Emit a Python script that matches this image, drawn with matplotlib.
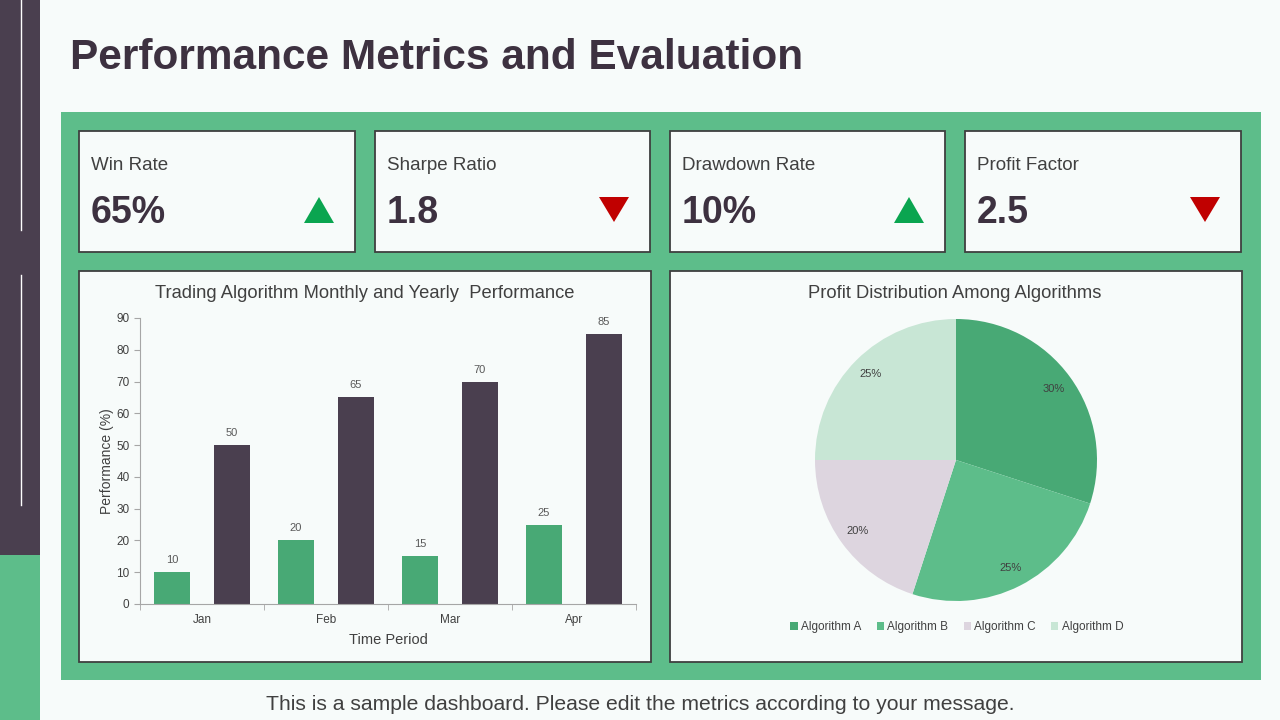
#!/usr/bin/env python3

import matplotlib
matplotlib.use("Agg")
import matplotlib.pyplot as plt
from matplotlib.patches import Rectangle, Polygon
import numpy as np

plt.rcParams["font.family"] = ["Liberation Sans", "DejaVu Sans"]

W, H = 1280, 720

# data
kpi_names = ["Win Rate", "Sharpe Ratio", "Drawdown Rate", "Profit Factor"]
kpi_values = ["65%", "1.8", "10%", "2.5"]
kpi_trend = ["up", "down", "up", "down"]

months = ["Jan", "Feb", "Mar", "Apr"]
monthly_perf = [10, 20, 15, 25]
yearly_perf = [50, 65, 70, 85]
bar_ticks = [0, 10, 20, 30, 40, 50, 60, 70, 80, 90]

algos = ["Algorithm A", "Algorithm B", "Algorithm C", "Algorithm D"]
profit_share = [30, 25, 20, 25]

# colours
bg = "#f7fbfa"
dark = "#4a3f4f"
green = "#5dbd8a"
deep_green = "#48a975"
text_dark = "#3d3140"
text_grey = "#404040"
pie_colors = ["#48a975", "#5dbd8a", "#ddd5df", "#c8e6d5"]


def fx(x):
  return x / W


def fy(y):
  return 1 - y / H


def box(fig, x0, y0, x1, y1, **kw):
  fig.add_artist(Rectangle(
    (fx(x0), fy(y1)), fx(x1) - fx(x0), fy(y0) - fy(y1),
    transform=fig.transFigure, zorder=-2, **kw
  ))


def axes_px(fig, x0, y0, x1, y1):
  return fig.add_axes([fx(x0), fy(y1), fx(x1) - fx(x0), fy(y0) - fy(y1)])


fig = plt.figure(figsize=(W / 100, H / 100), dpi=100)
fig.patch.set_facecolor(bg)

# side bar
box(fig, 0, 0, 40, 555, color=dark, lw=0)
box(fig, 0, 555, 40, 720, color=green, lw=0)
for (a, b) in [(0, 230), (275, 505)]:
  fig.add_artist(plt.Line2D([fx(20.5), fx(20.5)], [fy(a), fy(b)],
                            transform=fig.transFigure, color="white", lw=1,
                            zorder=-1))

fig.text(fx(70), fy(58), "Performance Metrics and Evaluation",
         fontsize=30.5, fontweight="bold", color=text_dark, va="center")

# green panel
box(fig, 61, 112, 1261, 680, color=green, lw=0)

# KPI cards
card_x = [(79, 355), (375, 650), (670, 945), (965, 1241)]
for (x0, x1), name, val, tr in zip(card_x, kpi_names, kpi_values, kpi_trend):
  box(fig, x0, 131, x1, 252, facecolor=bg, edgecolor="#3f3f3f", lw=1.3)
  fig.text(fx(x0 + 12), fy(165.5), name, fontsize=13.5, color=text_grey,
           va="center")
  fig.text(fx(x0 + 12), fy(213), val, fontsize=27, fontweight="bold",
           color=text_dark, va="center")
  cx = x1 - 36
  if tr == "up":
    pts = [(cx - 15, 223), (cx + 15, 223), (cx, 197)]
    col = "#0aa550"
  else:
    pts = [(cx - 15, 197), (cx + 15, 197), (cx, 222)]
    col = "#c00000"
  fig.add_artist(Polygon([(fx(px), fy(py)) for px, py in pts], closed=True,
                         transform=fig.transFigure, color=col, lw=0,
                         zorder=-1))

# chart panels
box(fig, 79, 271, 651, 662, facecolor=bg, edgecolor="#3f3f3f", lw=1.3)
box(fig, 670, 271, 1242, 662, facecolor=bg, edgecolor="#3f3f3f", lw=1.3)

# bar chart
ax = axes_px(fig, 140, 318, 636, 604)
ax.set_facecolor("none")
idx = np.arange(len(months))
bw = 0.29
off = 0.242
r1 = ax.bar(idx - off, monthly_perf, bw, color=deep_green, label="Monthly")
r2 = ax.bar(idx + off, yearly_perf, bw, color=dark, label="Yearly")
for rects, vals in [(r1, monthly_perf), (r2, yearly_perf)]:
  for rect, v in zip(rects, vals):
    ax.text(rect.get_x() + rect.get_width() / 2, v + 2.2, str(v),
            ha="center", va="bottom", fontsize=8, color="#595959")
ax.set_xlim(-0.5, len(months) - 0.5)
ax.set_ylim(0, 90)
ax.set_yticks(bar_ticks)
ax.set_xticks(idx)
ax.set_xticklabels(months)
ax.set_xticks(np.arange(len(months) + 1) - 0.5, minor=True)
ax.tick_params(axis="x", which="major", length=0, labelsize=8.5,
               colors=text_grey, pad=7)
ax.tick_params(axis="x", which="minor", length=4, color="#a6a6a6")
ax.tick_params(axis="y", length=4, color="#a6a6a6", labelsize=8.5,
               labelcolor=text_grey)
for s in ["top", "right"]:
  ax.spines[s].set_visible(False)
for s in ["left", "bottom"]:
  ax.spines[s].set_color("#a6a6a6")
ax.set_xlabel("Time Period", fontsize=10.5, color=text_grey, labelpad=5)
ax.set_ylabel("Performance (%)", fontsize=10, color=text_grey, labelpad=2)
fig.text(fx(365), fy(294), "Trading Algorithm Monthly and Yearly  Performance",
         fontsize=13.2, color=text_grey, ha="center", va="center")

# pie chart
pax = axes_px(fig, 815, 319, 1097, 601)
wedges, _, autot = pax.pie(
  profit_share, colors=pie_colors, startangle=90, counterclock=False,
  autopct="%d%%", pctdistance=0.86,
  textprops={"fontsize": 8, "color": "#404040"}
)
pax.set_xlim(-1, 1)
pax.set_ylim(-1, 1)
pax.set_aspect("equal")
fig.text(fx(955), fy(294), "Profit Distribution Among Algorithms",
         fontsize=13.2, color=text_grey, ha="center", va="center")
fig.legend(wedges, algos, loc="center", bbox_to_anchor=(fx(957), fy(627)),
           ncol=4, frameon=False, fontsize=8.5, handlelength=0.6,
           handleheight=0.6, handletextpad=0.3, columnspacing=1.3,
           labelcolor="#404040")

fig.text(fx(640), fy(704),
         "This is a sample dashboard. Please edit the metrics according to your message.",
         fontsize=15.2, color=text_grey, ha="center", va="center")

fig.savefig("out.png", dpi=100, facecolor=fig.get_facecolor())
